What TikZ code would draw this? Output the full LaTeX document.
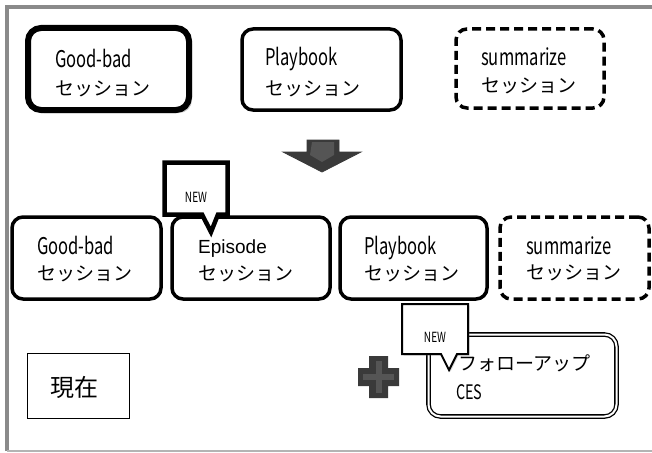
\documentclass[tikz,border=0pt]{standalone}
\usepackage{fontspec}
\setmainfont{Noto Sans CJK JP}
\newfontfamily\latn[FakeStretch=0.72]{Noto Sans CJK JP}
\newfontfamily\arialf{Liberation Sans}
\usetikzlibrary{shadows}
\definecolor{framegray}{HTML}{8A8A8A}
\definecolor{framelight}{HTML}{B4B4B4}
\definecolor{darkfill}{HTML}{3A3A3A}
\definecolor{midfill}{HTML}{555555}
\tikzset{
  sbox/.style={draw=black, line width=3.5pt, rounded corners=11pt, fill=white, rectangle, inner sep=0pt},
  thickbox/.style={sbox, line width=6pt, rounded corners=13pt},
  dashbox/.style={sbox, dash pattern=on 9pt off 5pt},
  lat/.style={anchor=base west, inner sep=0pt, font=\latn\fontsize{23}{26}\selectfont},
  kana/.style={anchor=base west, inner sep=0pt, font=\fontsize{19}{22}\selectfont},
  newtxt/.style={inner sep=0pt, font=\latn\fontsize{14}{16}\selectfont},
}
\begin{document}
\begin{tikzpicture}[x=1pt,y=-1pt]
\useasboundingbox (0,0) rectangle (652,452);
\fill[white] (0,0) rectangle (652,452);
% frame
\draw[framegray, line width=4pt] (652,7.5) -- (7,7.5) -- (7,451);
\draw[framelight, line width=2pt] (7,451) -- (652,451);

% top row
\node[thickbox, minimum width=161pt, minimum height=82pt,
      drop shadow={shadow xshift=3pt, shadow yshift=-3pt, opacity=0.45, fill=gray}] (tgb) at (108.5,69) {};
\node[sbox, minimum width=159pt, minimum height=81pt] (tpb) at (321.5,69.5) {};
\node[dashbox, minimum width=148pt, minimum height=79pt] (tsm) at (530,68.5) {};
\node[lat] (tgb1) at (55,67) {Good-bad};
\node[kana] (tgb2) at (55,95) {セッション};
\node[lat] (tpb1) at (265,65) {Playbook};
\node[kana] (tpb2) at (265,95) {セッション};
\node[lat] (tsm1) at (481,65) {summarize};
\node[kana] (tsm2) at (481,92) {セッション};

% arrow
\node[inner sep=0pt] (arr) at (322,156) {};
\filldraw[fill=darkfill, draw=darkfill, line width=0.8pt, line join=miter]
  (307,140) -- (339,140) -- (339,152) -- (361,152) -- (322,172) -- (283,152) -- (307,152) -- cycle;
\fill[midfill] (312,142) -- (334,142) -- (334,155) -- (322,162) -- (310,155) -- cycle;

% bottom row
\node[sbox, minimum width=149pt, minimum height=82pt] (bgb) at (86.5,258) {};
\node[sbox, minimum width=158pt, minimum height=82pt] (bep) at (251,258) {};
\node[sbox, minimum width=147pt, minimum height=82pt] (bpb) at (413.5,258) {};
\node[dashbox, minimum width=149pt, minimum height=82pt] (bsm) at (574.5,258) {};
\node[lat] (bgb1) at (37,254) {Good-bad};
\node[kana] (bgb2) at (37,280) {セッション};
\node[anchor=base west, inner sep=0pt, font=\arialf\fontsize{19}{22}\selectfont] (bep1) at (198,253) {Episode};
\node[kana] (bep2) at (198,280) {セッション};
\node[lat] (bpb1) at (364,254) {Playbook};
\node[kana] (bpb2) at (364,280) {セッション};
\node[lat] (bsm1) at (526,254) {summarize};
\node[kana] (bsm2) at (526,279) {セッション};

% NEW callout on Episode
\filldraw[fill=white, draw=black, line width=4.5pt, line join=miter]
  (164.5,162.5) -- (227.5,162.5) -- (227.5,214.5) -- (218,214.5) -- (211,232) -- (202,214.5) -- (164.5,214.5) -- cycle;
\node[newtxt] (new1) at (196,197) {NEW};

% current
\node[draw=black, line width=1pt, rectangle, minimum width=102pt, minimum height=65pt] (cur) at (78.5,386) {};
\node[anchor=base west, inner sep=0pt, font=\fontsize{24}{26}\selectfont] (curt) at (50,396) {現在};

% plus sign
\node[inner sep=0pt] (plus) at (378.5,377) {};
\fill[darkfill] (369,356) -- (388,356) -- (388,368) -- (399,368) -- (399,386) -- (388,386) -- (388,398)
  -- (369,398) -- (369,386) -- (358,386) -- (358,368) -- (369,368) -- cycle;
\draw[midfill, line width=6pt] (378.5,361) -- (378.5,393) (363,377) -- (394,377);

% follow-up CES box
\node[draw=black, rectangle, rounded corners=12pt, line width=1.3pt, double=white, double distance=2pt,
      minimum width=188pt, minimum height=82pt, fill=white] (fol) at (522.5,375.5) {};
\node[kana] (fol1) at (458,370) {フォローアップ};
\node[lat, font=\latn\fontsize{20}{22}\selectfont] (fol2) at (456,399) {CES};

% NEW callout on follow-up
\filldraw[fill=white, draw=black, line width=2pt, line join=miter,
  drop shadow={shadow xshift=1.5pt, shadow yshift=-1.5pt, opacity=0.3, fill=gray}]
  (402,304) -- (468,304) -- (468,354) -- (457,354) -- (449,370) -- (441,354) -- (402,354) -- cycle;
\node[newtxt] (new2) at (435,337) {NEW};
\end{tikzpicture}
\end{document}
